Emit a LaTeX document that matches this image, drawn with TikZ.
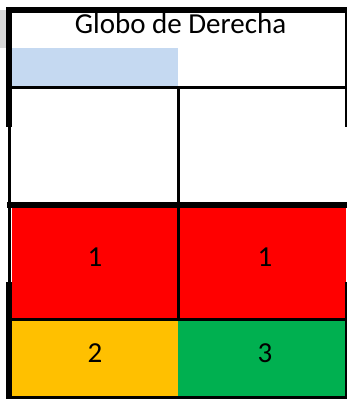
\documentclass[tikz,border=0pt]{standalone}
\usepackage{fontspec}
\setmainfont{Carlito}
\usepackage{tikz}
\definecolor{celeste}{RGB}{197,217,241}
\definecolor{gris}{RGB}{217,217,217}
\definecolor{rojo}{RGB}{255,0,0}
\definecolor{ambar}{RGB}{255,192,0}
\definecolor{verde}{RGB}{0,176,80}
\tikzset{
  grueso/.style={line width=6pt},
  fino/.style={line width=3pt},
  cifra/.style={font=\fontsize{29}{33}\selectfont}
}

\begin{document}
\begin{tikzpicture}[x=1pt,y=-1pt]
        \useasboundingbox (0,0) rectangle (347,399);
        % celdas
        \fill[gris] (0,10) rectangle (6,48);
        \fill[celeste] (12,48) rectangle (178,86);
        \fill[rojo] (12,208) rectangle (346,318);
        \fill[ambar] (12,321) rectangle (178,396);
        \fill[verde] (178,321) rectangle (346,396);
        % textos
        \node[cifra] (titulo) at (180.5,24) {Globo de Derecha};
        \node[cifra] (c11) at (95,257.5) {1};
        \node[cifra] (c12) at (265,257.5) {1};
        \node[cifra] (c21) at (95,353) {2};
        \node[cifra] (c22) at (265,353) {3};
        % bordes
        \draw[grueso] (6,10) -- (347,10);
        \draw[grueso] (9,7) -- (9,127);
        \draw[fino] (9.5,127) -- (9.5,282);
        \draw[grueso] (9,282) -- (9,399);
        \draw[line width=2pt] (346,7) -- (346,127);
        \draw[line width=2pt] (346,282) -- (346,399);
        \draw[fino] (12,87.5) -- (347,87.5);
        \draw[grueso] (7,205) -- (347,205);
        \draw[fino] (12,319.5) -- (347,319.5);
        \draw[fino] (6,397.5) -- (347,397.5);
        \draw[fino] (178.5,87) -- (178.5,321);
\end{tikzpicture}
\end{document}
